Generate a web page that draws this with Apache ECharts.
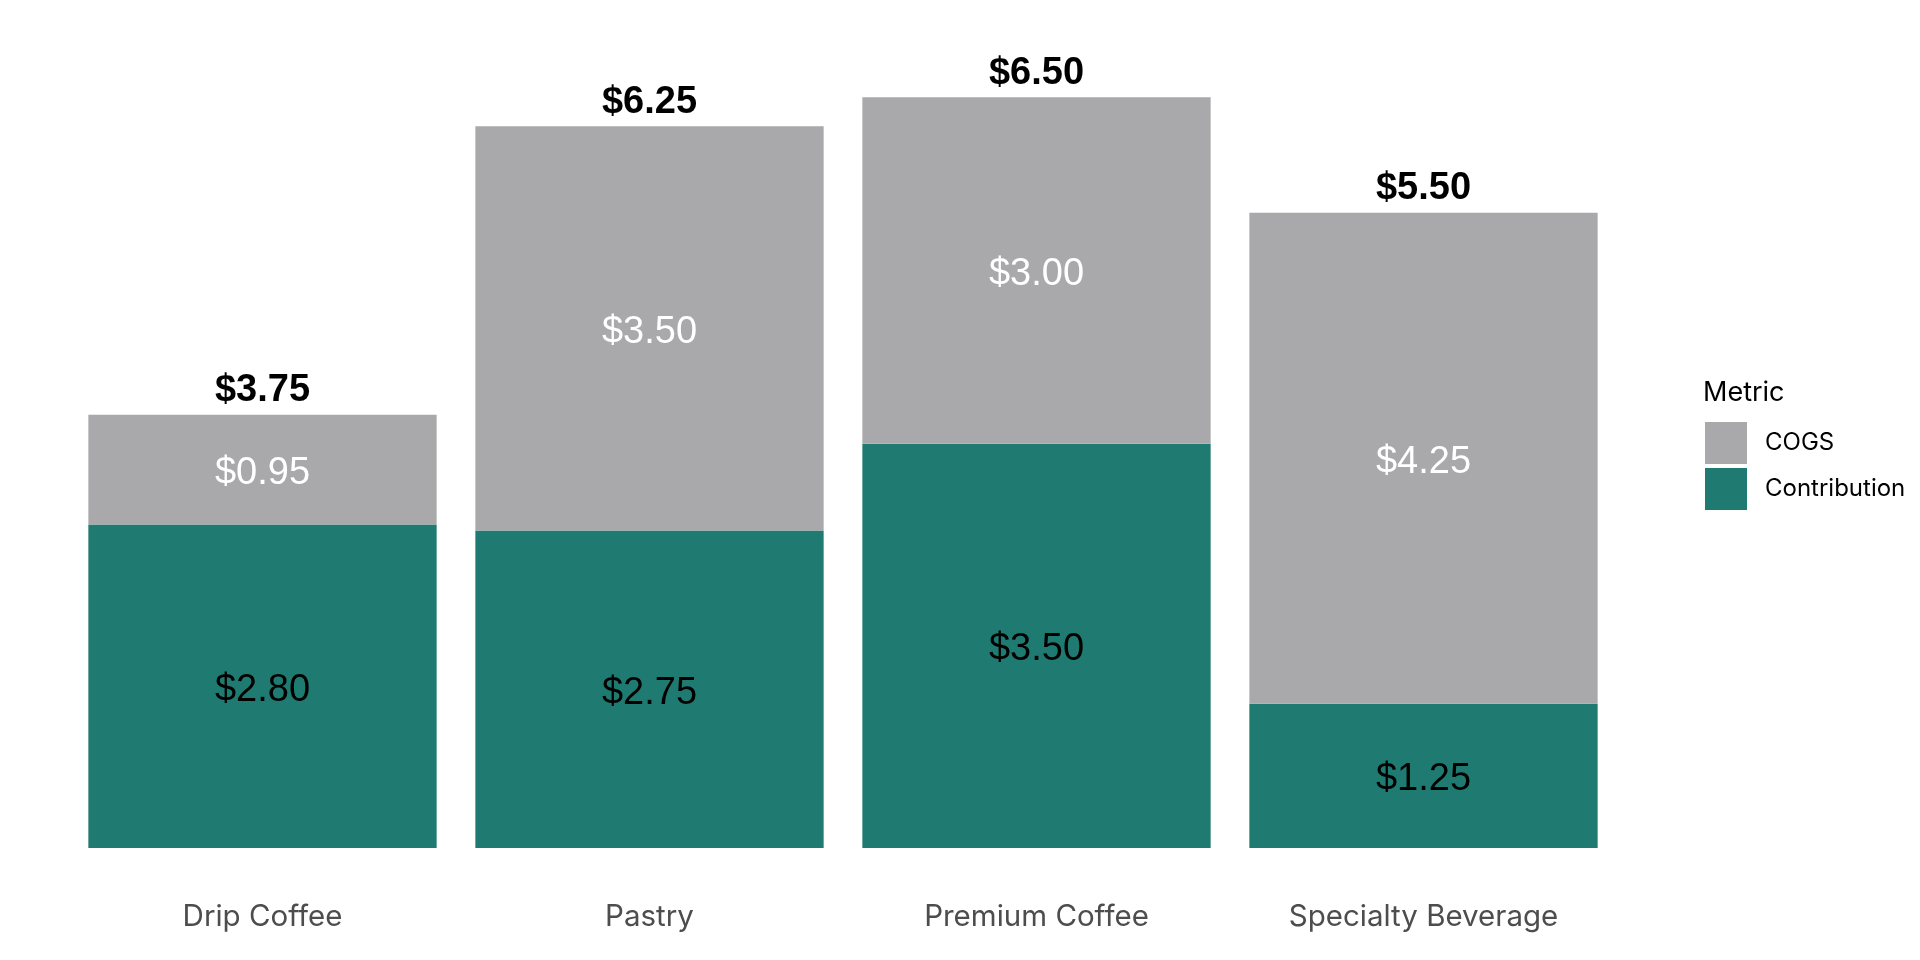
<!DOCTYPE html>
<html>
<head>
<meta charset="utf-8">
<script src="https://cdn.jsdelivr.net/npm/echarts@6/dist/echarts.min.js"></script>
<style>html,body{margin:0;padding:0;background:#fff;}#c{width:1920px;height:960px;}</style>
</head>
<body>
<div id="c"></div>
<script>
const categories = ['Drip Coffee', 'Pastry', 'Premium Coffee', 'Specialty Beverage'];
const cogs = [0.95, 3.50, 3.00, 4.25];
const contribution = [2.80, 2.75, 3.50, 1.25];
const totals = [3.75, 6.25, 6.50, 5.50];

const fmt = v => '$' + Number(v).toFixed(2);
const chart = echarts.init(document.getElementById('c'));
chart.setOption({
  animation: false,
  backgroundColor: '#ffffff',
  grid: { left: 69, right: 303, top: 39.5, bottom: 112 },
  title: {
    text: 'Metric', left: 1703, top: 379, padding: 0,
    textStyle: { fontFamily: 'Inter', fontSize: 27, fontWeight: 'normal', color: '#000' }
  },
  legend: {
    data: ['COGS', 'Contribution'],
    orient: 'vertical', left: 1705, top: 422, padding: 0,
    itemWidth: 42, itemHeight: 42, itemGap: 4,
    icon: 'rect',
    textStyle: { fontFamily: 'Inter', fontSize: 24, color: '#000', padding: [0, 0, 0, 13] }
  },
  xAxis: {
    type: 'category', data: categories,
    axisLine: { show: false }, axisTick: { show: false },
    axisLabel: { margin: 54, fontFamily: 'Inter', fontSize: 29.5, color: '#4d4d4d' }
  },
  yAxis: { type: 'value', min: 0, max: 7, show: false, splitLine: { show: false } },
  series: [
    {
      name: 'Contribution', type: 'bar', stack: 'total', data: contribution, barWidth: '90%',
      itemStyle: { color: '#1F7B71' },
      label: { show: true, position: 'inside', offset: [0, 4], formatter: p => fmt(p.value),
        fontFamily: 'Liberation Sans', fontSize: 38, color: '#000' }
    },
    {
      name: 'COGS', type: 'bar', stack: 'total', data: cogs, barWidth: '90%',
      itemStyle: { color: '#A9A9AB' },
      label: { show: true, position: 'inside', offset: [0, 4], formatter: p => fmt(p.value),
        fontFamily: 'Liberation Sans', fontSize: 38, color: '#fff' }
    },
    {
      name: 'Total', type: 'bar', data: totals, barWidth: '90%', barGap: '-100%',
      itemStyle: { color: 'rgba(0,0,0,0)' }, silent: true, z: 1,
      label: { show: true, position: 'top', distance: 5, formatter: p => fmt(p.value),
        fontFamily: 'Liberation Sans', fontSize: 38, fontWeight: 'bold', color: '#000' }
    }
  ]
});
</script>
</body>
</html>
